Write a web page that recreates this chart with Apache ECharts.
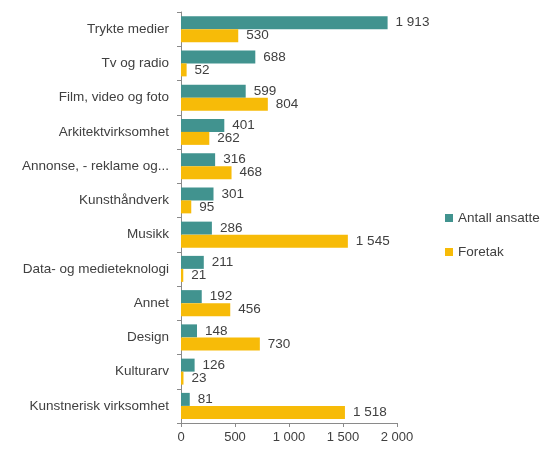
<!DOCTYPE html>
<html>
<head>
<meta charset="utf-8">
<script src="https://cdn.jsdelivr.net/npm/echarts@6/dist/echarts.min.js"></script>
<style>
  html, body { margin: 0; padding: 0; background: #fff; }
  #chart { width: 540px; height: 449px; }
</style>
</head>
<body>
<div id="chart"></div>
<script>
var categories = ['Trykte medier', 'Tv og radio', 'Film, video og foto', 'Arkitektvirksomhet',
    'Annonse, - reklame og...', 'Kunsthåndverk', 'Musikk', 'Data- og medieteknologi',
    'Annet', 'Design', 'Kulturarv', 'Kunstnerisk virksomhet'];
var ansatte = [1913, 688, 599, 401, 316, 301, 286, 211, 192, 148, 126, 81];
var foretak = [530, 52, 804, 262, 468, 95, 1545, 21, 456, 730, 23, 1518];
var xTicks = [0, 500, 1000, 1500, 2000];

// tusenskille med mellomrom
function fmt(v) {
    return String(v).replace(/\B(?=(\d{3})+(?!\d))/g, ' ');
}

var chart = echarts.init(document.getElementById('chart'));
var font = 'Liberation Sans';

var option = {
    animation: false,
    textStyle: { fontFamily: font },
    legend: {
        orient: 'vertical',
        left: 440,
        top: 206,
        itemWidth: 8,
        itemHeight: 8,
        itemGap: 20,
        icon: 'rect',
        textStyle: { fontSize: 13.5, color: '#404040', fontFamily: font },
        data: ['Antall ansatte', 'Foretak']
    },
    grid: { left: 181, right: 143, top: 12, bottom: 26 },
    xAxis: {
        type: 'value',
        min: xTicks[0],
        max: xTicks[xTicks.length - 1],
        interval: 500,
        axisLine: { show: true, lineStyle: { color: '#8a8a8a' } },
        axisTick: { show: true, length: 4, lineStyle: { color: '#8a8a8a' } },
        splitLine: { show: false },
        axisLabel: { color: '#404040', fontSize: 13, margin: 8, formatter: fmt }
    },
    yAxis: {
        type: 'category',
        inverse: true,
        data: categories,
        axisLine: { lineStyle: { color: '#8a8a8a' } },
        axisTick: { show: true, length: 4, lineStyle: { color: '#8a8a8a' } },
        axisLabel: { color: '#404040', fontSize: 13.5, margin: 12, padding: [0, 0, 6, 0] }
    },
    series: [
        {
            name: 'Antall ansatte',
            type: 'bar',
            data: ansatte,
            barWidth: 13,
            barGap: '0%',
            itemStyle: { color: '#41938f' },
            label: { show: true, position: 'right', distance: 8, color: '#404040', fontSize: 13.5, formatter: function (p) { return fmt(p.value); } }
        },
        {
            name: 'Foretak',
            type: 'bar',
            data: foretak,
            barWidth: 13,
            itemStyle: { color: '#f7bb08' },
            label: { show: true, position: 'right', distance: 8, color: '#404040', fontSize: 13.5, formatter: function (p) { return fmt(p.value); } }
        }
    ]
};
chart.setOption(option);
</script>
</body>
</html>
